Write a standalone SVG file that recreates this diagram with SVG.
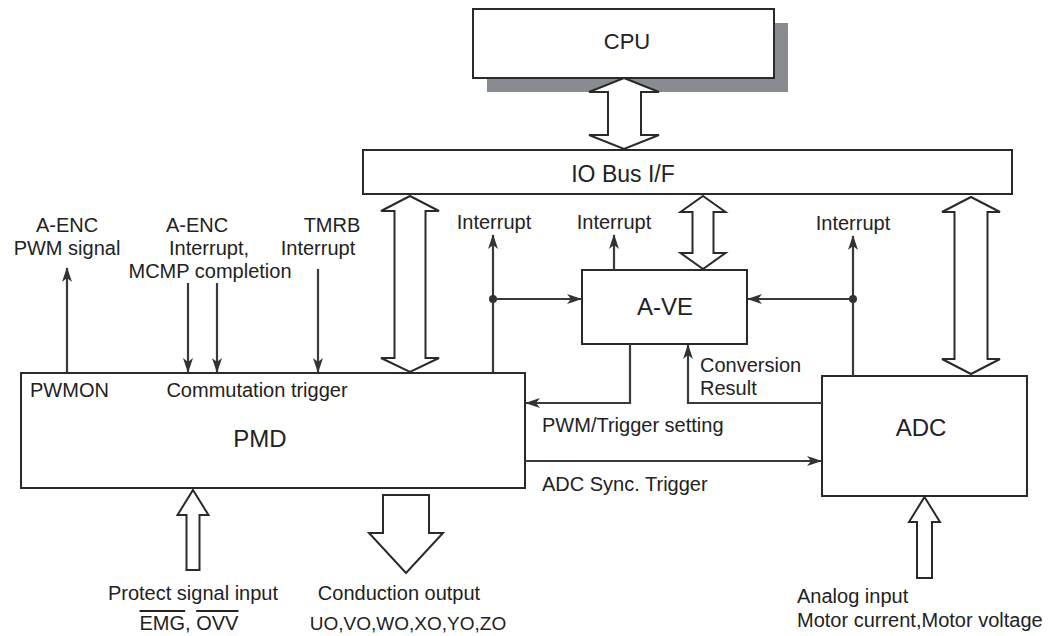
<svg xmlns="http://www.w3.org/2000/svg" width="1058" height="636" viewBox="0 0 1058 636">
<style>
.box{fill:#fff;stroke:#2a2a2a;stroke-width:2}
.big{fill:#fff;stroke:#2a2a2a;stroke-width:2;stroke-linejoin:miter}
.ln{fill:none;stroke:#3a3a3a;stroke-width:2.2}
text{font-family:"Liberation Sans",Arial,sans-serif;fill:#222}
.t{font-size:20px}
.c{text-anchor:middle}
.L{font-size:24px;text-anchor:middle}
</style>
<defs>
<marker id="ah" markerUnits="userSpaceOnUse" markerWidth="16" markerHeight="12" refX="14" refY="5" orient="auto">
<path d="M0,0 L15,5 L0,10 L4,5 Z" fill="#333"/>
</marker>
</defs>
<rect x="0" y="0" width="1058" height="636" fill="#fff"/>

<g id="cpu">
<rect x="487" y="23" width="301" height="69" fill="#888c90"/>
<rect class="box" x="473" y="9" width="301" height="69"/>
<text x="627" y="49" style="font-size:22px;text-anchor:middle">CPU</text>
</g>

<g id="iobus">
<rect class="box" x="363" y="150" width="649" height="44"/>
<text x="623" y="182" style="font-size:23px;text-anchor:middle">IO Bus I/F</text>
</g>

<g id="pmd">
<rect class="box" x="21" y="373" width="504" height="115"/>
<text class="L" x="260" y="447">PMD</text>
<text class="t" x="30" y="397">PWMON</text>
<text class="t c" x="257" y="397">Commutation trigger</text>
</g>

<g id="ave">
<rect class="box" x="582" y="270" width="165" height="74"/>
<text class="L" x="665" y="315">A-VE</text>
</g>

<g id="adc">
<rect class="box" x="822" y="376" width="205" height="120"/>
<text class="L" x="921" y="436">ADC</text>
</g>

<g id="connectors">
<path class="big" d="M624,78 L659,92 L641,92 L641,135 L659,135 L624,149 L589,135 L608,135 L608,92 L589,92 Z"/>
<path class="big" d="M410,196 L439,211 L425.5,211 L425.5,358 L439,358 L410,372 L381,358 L394.5,358 L394.5,211 L381,211 Z"/>
<path class="big" d="M703,196 L725.5,212 L713.5,212 L713.5,253 L725.5,253 L703,269 L680.5,253 L692.5,253 L692.5,212 L680.5,212 Z"/>
<path class="big" d="M971,197 L1000,212 L987.5,212 L987.5,359 L1000,359 L971,374 L942,359 L954.5,359 L954.5,212 L942,212 Z"/>
<path class="big" d="M193,490 L208.5,515 L199.5,515 L199.5,570 L186.5,570 L186.5,515 L177.5,515 Z"/>
<path class="big" d="M383,495 L429,495 L429,533 L443,533 L406,573 L369,533 L383,533 Z"/>
<path class="big" d="M924.5,497 L940,522 L932,522 L932,578 L917,578 L917,522 L909,522 Z"/>

<line class="ln" x1="67" y1="373" x2="67" y2="268" marker-end="url(#ah)"/>
<line class="ln" x1="188" y1="283" x2="188" y2="372" marker-end="url(#ah)"/>
<line class="ln" x1="217" y1="283" x2="217" y2="372" marker-end="url(#ah)"/>
<line class="ln" x1="318" y1="269" x2="318" y2="372" marker-end="url(#ah)"/>

<line class="ln" x1="493" y1="373" x2="493" y2="235" marker-end="url(#ah)"/>
<line class="ln" x1="493" y1="299" x2="581" y2="299" marker-end="url(#ah)"/>
<circle cx="493" cy="299" r="4" fill="#333"/>
<line class="ln" x1="614" y1="270" x2="614" y2="235" marker-end="url(#ah)"/>
<line class="ln" x1="853" y1="376" x2="853" y2="236" marker-end="url(#ah)"/>
<line class="ln" x1="853" y1="299" x2="748" y2="299" marker-end="url(#ah)"/>
<circle cx="853" cy="299" r="4" fill="#333"/>

<path class="ln" d="M630,344 V403 H526" marker-end="url(#ah)"/>
<path class="ln" d="M822,403 H688 V345" marker-end="url(#ah)"/>
<line class="ln" x1="525" y1="461" x2="821" y2="461" marker-end="url(#ah)"/>
</g>

<g id="labels">
<text class="t c" x="67" y="232">A-ENC</text>
<text class="t c" x="67" y="255">PWM signal</text>
<text class="t c" x="197" y="232">A-ENC</text>
<text class="t c" x="209" y="255">Interrupt,</text>
<text class="t c" x="210" y="278">MCMP completion</text>
<text class="t c" x="332" y="232">TMRB</text>
<text class="t c" x="318" y="255">Interrupt</text>
<text class="t c" x="494" y="229">Interrupt</text>
<text class="t c" x="614" y="229">Interrupt</text>
<text class="t c" x="853" y="230">Interrupt</text>
<text class="t" x="700" y="372">Conversion</text>
<text class="t" x="700" y="395">Result</text>
<text class="t" x="542" y="432">PWM/Trigger setting</text>
<text class="t" x="542" y="491">ADC Sync. Trigger</text>
<text class="t c" x="193" y="600">Protect signal input</text>
<text class="t c" x="189" y="630"><tspan text-decoration="overline">EMG</tspan>, <tspan text-decoration="overline">OVV</tspan></text>
<text class="t c" x="399" y="600">Conduction output</text>
<text class="c" x="408" y="630" style="font-size:19px">UO,VO,WO,XO,YO,ZO</text>
<text class="t" x="797" y="603">Analog input</text>
<text class="t" x="797" y="627">Motor current,Motor voltage</text>
</g>
</svg>
